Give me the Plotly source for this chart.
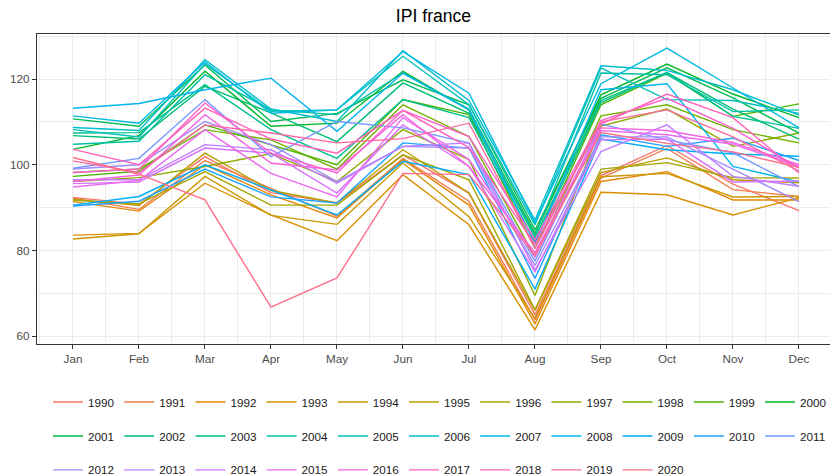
import math
import plotly.graph_objects as go

months = ['Jan', 'Feb', 'Mar', 'Apr', 'May', 'Jun', 'Jul', 'Aug', 'Sep', 'Oct', 'Nov', 'Dec']
month_num = list(range(1, 13))

## IPI values, Jan..Dec
y1990 = [92.4, 90.8, 101.9, 93.5, 91.1, 102.3, 93.4, 65.0, 97.5, 104.5, 95.5, 89.3]
y1991 = [92.2, 89.6, 101.0, 94.5, 88.0, 101.5, 91.5, 63.8, 96.9, 103.8, 94.2, 92.6]
y1992 = [91.4, 89.2, 100.0, 93.0, 87.6, 101.2, 90.6, 62.9, 96.1, 98.4, 91.8, 91.8]
y1993 = [83.6, 84.0, 95.7, 88.3, 82.3, 97.7, 86.0, 61.5, 93.6, 93.0, 88.3, 92.3]
y1994 = [82.7, 83.9, 97.3, 88.2, 86.1, 100.4, 87.9, 64.2, 97.2, 98.0, 92.5, 92.6]
y1995 = [92.0, 90.5, 102.7, 94.0, 91.1, 103.5, 93.4, 66.0, 98.2, 101.6, 96.5, 95.8]
y1996 = [91.7, 90.9, 98.4, 90.6, 90.6, 102.3, 96.5, 66.2, 99.0, 100.5, 97.0, 96.9]
y1997 = [96.1, 97.0, 99.6, 102.6, 96.1, 108.2, 101.2, 69.5, 109.0, 113.0, 104.3, 107.4]
y1998 = [98.2, 99.0, 108.2, 105.8, 99.0, 114.0, 106.6, 78.5, 111.4, 114.0, 108.2, 105.1]
y1999 = [97.3, 98.5, 109.3, 104.7, 100.0, 115.2, 111.7, 80.5, 114.0, 121.3, 111.3, 114.2]
y2000 = [103.6, 106.8, 121.8, 109.0, 109.7, 121.8, 112.8, 84.0, 116.3, 123.5, 116.5, 111.0]
y2001 = [110.7, 109.0, 123.3, 110.1, 112.0, 119.8, 114.0, 84.8, 115.5, 122.6, 115.6, 107.4]
y2002 = [106.8, 106.0, 118.3, 112.1, 105.4, 119.1, 112.0, 83.0, 115.0, 121.5, 113.0, 106.0]
y2003 = [107.4, 107.5, 118.7, 108.2, 101.5, 115.2, 111.0, 82.0, 114.5, 121.5, 111.3, 108.5]
y2004 = [104.8, 105.5, 121.0, 112.8, 111.7, 121.4, 113.0, 83.5, 121.4, 121.0, 112.4, 112.8]
y2005 = [108.2, 106.5, 123.5, 112.5, 112.8, 125.3, 114.0, 86.0, 122.6, 115.2, 115.0, 112.0]
y2006 = [108.7, 108.0, 124.5, 113.0, 110.1, 126.6, 115.0, 87.1, 123.1, 122.0, 117.5, 111.6]
y2007 = [111.4, 109.7, 124.0, 112.0, 112.8, 126.4, 116.7, 86.5, 118.9, 127.2, 117.9, 108.6]
y2008 = [113.2, 114.3, 117.5, 120.2, 107.8, 121.4, 112.8, 81.5, 117.5, 118.9, 99.6, 96.0]
y2009 = [90.6, 92.6, 100.0, 94.1, 88.3, 100.8, 97.7, 71.0, 106.0, 103.5, 102.5, 102.0]
y2010 = [90.4, 91.5, 99.0, 92.5, 91.1, 105.1, 103.9, 73.5, 107.0, 104.3, 106.2, 101.0]
y2011 = [99.2, 101.5, 115.2, 101.9, 110.1, 108.6, 105.1, 77.5, 109.5, 105.8, 102.8, 94.9]
y2012 = [99.0, 100.0, 110.1, 104.7, 96.1, 104.3, 103.9, 76.5, 106.5, 106.5, 99.0, 91.4]
y2013 = [96.5, 96.5, 104.7, 103.5, 95.7, 104.3, 105.1, 75.5, 103.1, 109.3, 97.3, 95.0]
y2014 = [95.6, 96.0, 103.9, 102.7, 93.4, 109.3, 99.6, 75.0, 105.8, 106.0, 96.0, 96.2]
y2015 = [94.8, 96.3, 108.2, 98.0, 92.5, 111.0, 101.2, 78.5, 108.0, 107.0, 104.8, 99.6]
y2016 = [96.1, 97.6, 111.7, 100.4, 98.8, 111.7, 99.6, 79.5, 108.6, 108.0, 105.2, 100.0]
y2017 = [98.2, 99.0, 114.4, 102.7, 98.1, 112.7, 106.6, 82.5, 110.3, 115.5, 108.5, 99.2]
y2018 = [103.6, 100.0, 113.2, 106.0, 102.7, 112.7, 104.0, 81.5, 109.5, 116.5, 111.0, 98.1]
y2019 = [100.9, 98.2, 109.3, 107.4, 105.1, 106.1, 109.7, 80.5, 110.0, 112.8, 106.5, 98.5]
y2020 = [101.7, 97.8, 91.8, 66.8, 73.6, 98.0, 97.7, 79.0, 107.5, 105.0, 103.0, 99.4]

years = list(range(1990, 2021))
series = {yr: globals()['y%d' % yr] for yr in years}


# ggplot2 default hue palette (hcl, c=100, l=65)
def hcl_hex(h, c=100.0, l=65.0):
    Xn, Yn, Zn = 95.047, 100.0, 108.883
    hr = math.radians(h)
    U = c * math.cos(hr)
    V = c * math.sin(hr)
    Y = Yn * ((l + 16) / 116) ** 3 if l > 8 else Yn * l / 903.3
    t = Xn + Yn + Zn
    x = Xn / t
    y = Yn / t
    uN = 2 * x / (6 * y - x + 1.5)
    vN = 4.5 * y / (6 * y - x + 1.5)
    u = U / (13 * l) + uN
    v = V / (13 * l) + vN
    X = 9.0 * Y * u / (4 * v)
    Z = -X / 3 - 5 * Y + 3 * Y / v

    def gt(q):
        q = q / Yn
        q = 1.055 * q ** (1 / 2.4) - 0.055 if q > 0.00304 else 12.92 * q
        return int(round(max(0, min(1, q)) * 255))

    r = gt(3.240479 * X - 1.537150 * Y - 0.498535 * Z)
    g = gt(-0.969256 * X + 1.875992 * Y + 0.041556 * Z)
    b = gt(0.055648 * X - 0.204043 * Y + 1.057311 * Z)
    return '#%02X%02X%02X' % (r, g, b)


n = len(years)
colors = [hcl_hex(15 + 360 * i / n) for i in range(n)]

fig = go.Figure()
for i, yr in enumerate(years):
    # 11 legend entries per row, one plotly legend per row
    leg = ['legend', 'legend2', 'legend3'][i // 11]
    fig.add_trace(go.Scatter(
        x=month_num, y=series[yr],
        mode='lines',
        line=dict(color=colors[i], width=1.4),
        name=str(yr),
        legend=leg,
        hoverinfo='x+y+name'
    ))

axis_font = dict(family='Liberation Sans, Arial, sans-serif', size=11.7, color='#4D4D4D')
leg_common = dict(orientation='h', xanchor='left', yanchor='middle', x=0.0139,
                  entrywidth=26.2, entrywidthmode='pixels', bgcolor='rgba(0,0,0,0)',
                  font=dict(family='Liberation Sans, Arial, sans-serif', size=11.7, color='#1A1A1A'),
                  itemclick=False, itemdoubleclick=False)

fig.update_layout(
    width=830, height=476,
    margin=dict(l=37, r=0, t=34, b=132, autoexpand=False),
    paper_bgcolor='white', plot_bgcolor='white',
    title=dict(text='IPI france', x=0.5, xref='paper', xanchor='center',
               y=1 - 16 / 476, yref='container', yanchor='middle',
               font=dict(family='Liberation Sans, Arial, sans-serif', size=17.6, color='#000000')),
    xaxis=dict(range=[0.455, 12.47], tickvals=month_num, ticktext=months,
               showgrid=True, gridcolor='#EBEBEB', gridwidth=1.1,
               minor=dict(dtick=0.5, tick0=0.5, showgrid=True, gridcolor='#EBEBEB', gridwidth=0.55),
               showline=True, mirror=True, linecolor='#333333', linewidth=1.1,
               ticks='outside', ticklen=4, tickcolor='#333333', tickwidth=1,
               tickfont=axis_font, zeroline=False),
    yaxis=dict(range=[58.2, 130.5], tickvals=[60, 80, 100, 120],
               showgrid=True, gridcolor='#EBEBEB', gridwidth=1.1,
               minor=dict(dtick=10, tick0=60, showgrid=True, gridcolor='#EBEBEB', gridwidth=0.55),
               showline=True, mirror=True, linecolor='#333333', linewidth=1.1,
               ticks='outside', ticklen=4, tickcolor='#333333', tickwidth=1,
               tickfont=axis_font, zeroline=False),
    legend=dict(y=-0.187, **leg_common),
    legend2=dict(y=-0.297, **leg_common),
    legend3=dict(y=-0.406, **leg_common),
    showlegend=True,
)

# the page body has a default 8px margin; drop it so the figure sits at 0,0
fig.write_html('out.html', config={'displayModeBar': False},
               post_script="document.body.style.margin='0px';")
